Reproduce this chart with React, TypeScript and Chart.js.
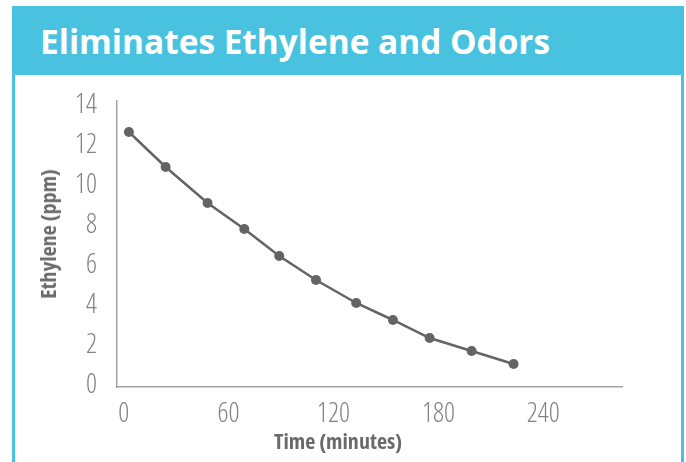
import React, { useEffect, useRef } from "react";
import { Chart, registerables } from "chart.js";

Chart.register(...registerables);

const TITLE = "Eliminates Ethylene and Odors";
const X_TITLE = "Time (minutes)";
const Y_TITLE = "Ethylene (ppm)";

const timeMinutes = [3, 24, 48, 69, 89, 110, 133, 154, 175, 199, 223];
const ethylenePpm = [12.65, 10.9, 9.1, 7.8, 6.45, 5.25, 4.1, 3.25, 2.35, 1.7, 1.05];

const xTicks = [0, 60, 120, 180, 240];
const yTicks = [0, 2, 4, 6, 8, 10, 12, 14];

const CYAN = "#48C2DF";
const LINE = "#646464";

export default function App() {
  const ref = useRef<HTMLCanvasElement>(null);

  useEffect(() => {
    const canvas = ref.current!;
    const chart = new Chart(canvas, {
      type: "line",
      data: {
        datasets: [
          {
            data: timeMinutes.map((t, i) => ({ x: t, y: ethylenePpm[i] })),
            borderColor: LINE,
            backgroundColor: LINE,
            borderWidth: 2.5,
            pointRadius: 5,
            pointBackgroundColor: LINE,
            pointBorderWidth: 0,
            tension: 0,
          },
        ],
      },
      options: {
        animation: false,
        responsive: false,
        devicePixelRatio: 1,
        layout: { padding: { left: 0, top: 26, right: 59, bottom: 0 } },
        plugins: {
          legend: { display: false },
          tooltip: { enabled: false },
          title: { display: false },
        },
        scales: {
          x: {
            type: "linear",
            min: -3.8,
            max: 285,
            afterBuildTicks: (s: any) => {
              s.ticks = xTicks.map((v) => ({ value: v }));
            },
            afterFit: (s: any) => {
              s.height = 75;
              s.paddingLeft = 0;
              s.paddingRight = 0;
            },
            grid: { display: false, drawTicks: false },
            border: { display: true, color: "#a3a3a3", width: 1.5 },
            ticks: {
              color: "#838383",
              padding: 11,
              maxRotation: 0,
              autoSkip: false,
              font: { family: "'Open Sans'", size: 27, weight: "condensed 300" as any },
            },
          },
          y: {
            type: "linear",
            min: -0.1,
            max: 14.2,
            afterBuildTicks: (s: any) => {
              s.ticks = yTicks.map((v) => ({ value: v }));
            },
            afterFit: (s: any) => {
              s.width = 102;
              s.paddingTop = 0;
              s.paddingBottom = 0;
            },
            grid: { display: false, drawTicks: false },
            border: { display: true, color: "#a3a3a3", width: 1.5 },
            ticks: {
              color: "#838383",
              padding: 20,
              autoSkip: false,
              font: { family: "'Open Sans'", size: 27, weight: "condensed 300" as any },
            },
          },
        },
      },
    });
    return () => chart.destroy();
  }, []);

  return (
    <div
      style={{
        position: "absolute",
        left: 0,
        top: 0,
        width: 686,
        height: 462,
        overflow: "hidden",
        background: "#fff",
        fontFamily: "'Open Sans', sans-serif",
      }}
    >
      <div style={{ position: "absolute", left: 12, top: 6, width: 672, height: 69, background: CYAN }} />
      <div style={{ position: "absolute", left: 12, top: 75, width: 3, height: 387, background: CYAN }} />
      <div style={{ position: "absolute", left: 681, top: 75, width: 3, height: 387, background: CYAN }} />
      <div
        style={{
          position: "absolute",
          left: 40,
          top: 18,
          color: "#fff",
          fontWeight: 700,
          fontSize: 33.4,
          lineHeight: "normal",
          whiteSpace: "nowrap",
          fontStretch: "100%",
        }}
      >
        {TITLE}
      </div>
      <canvas
        ref={ref}
        width={666}
        height={387}
        style={{ position: "absolute", left: 15, top: 75, width: 666, height: 387 }}
      />
      <div
        style={{
          position: "absolute",
          left: 338,
          top: 425,
          transform: "translateX(-50%)",
          color: "#6a6a6a",
          fontWeight: 700,
          fontSize: 22,
          lineHeight: "normal",
          whiteSpace: "nowrap",
          fontStretch: "75%",
        }}
      >
        {X_TITLE}
      </div>
      <div
        style={{
          position: "absolute",
          left: 47,
          top: 234,
          transform: "translate(-50%, -50%) rotate(-90deg)",
          color: "#6a6a6a",
          fontWeight: 700,
          fontSize: 22,
          lineHeight: "normal",
          whiteSpace: "nowrap",
          fontStretch: "75%",
        }}
      >
        {Y_TITLE}
      </div>
    </div>
  );
}
